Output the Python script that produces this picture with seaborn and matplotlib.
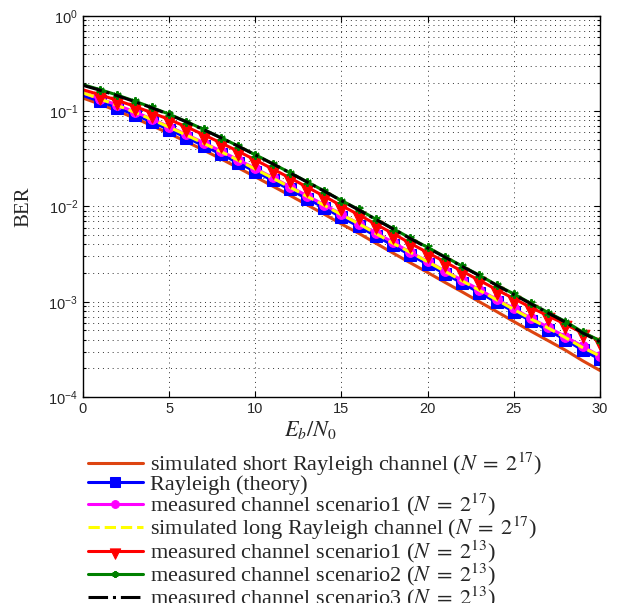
import numpy as np
import matplotlib
matplotlib.use("Agg")
import matplotlib.pyplot as plt
import matplotlib.ticker as mticker
from matplotlib.path import Path
import seaborn as sns

# ── data ──────────────────────────────────────────────────────
ebn0 = list(range(0, 31))

ber_short = [0.1376, 0.1183, 0.1007, 0.0847, 0.0706, 0.0584, 0.0479, 0.0391, 0.0317, 0.0255,
             0.0205, 0.0164, 0.0131, 0.01043, 0.0083, 0.00655, 0.00523, 0.00411, 0.00324, 0.00256,
             0.00203, 0.00160, 0.00127, 0.00100, 0.00079, 0.00062, 0.00049, 0.00039, 0.00031, 0.00024,
             0.00019]
ber_theory = [0.1464, 0.1267, 0.1085, 0.0919, 0.0771, 0.0642, 0.0530, 0.0435, 0.0355, 0.0288,
              0.0233, 0.0188, 0.0151, 0.0121, 0.0097, 0.0077, 0.0062, 0.0049, 0.0039, 0.0031,
              0.00248, 0.00197, 0.00157, 0.00125, 0.00099, 0.00079, 0.00063, 0.00050, 0.00040, 0.00031,
              0.00025]
ber_meas1_17 = [0.155, 0.1350, 0.1160, 0.0985, 0.0827, 0.0689, 0.0570, 0.0468, 0.0382, 0.0310,
                0.0251, 0.0202, 0.0162, 0.0130, 0.0104, 0.0083, 0.0066, 0.0053, 0.0042, 0.0033,
                0.00266, 0.00211, 0.00168, 0.00134, 0.00106, 0.00085, 0.00067, 0.00054, 0.00043, 0.00034,
                0.00027]
ber_long = [0.156, 0.1345, 0.1150, 0.0975, 0.0818, 0.0680, 0.0562, 0.0461, 0.0377, 0.0306,
            0.0247, 0.0199, 0.0160, 0.0128, 0.0103, 0.0082, 0.0066, 0.0052, 0.0041, 0.0033,
            0.00263, 0.00209, 0.00166, 0.00132, 0.00105, 0.00083, 0.00066, 0.00053, 0.00042, 0.00033,
            0.00027]
ber_meas1_13 = [0.168, 0.1485, 0.1300, 0.1124, 0.0964, 0.0819, 0.0686, 0.0567, 0.0466, 0.0380,
                0.0308, 0.0248, 0.0200, 0.0160, 0.0128, 0.0102, 0.0082, 0.0065, 0.0052, 0.0041,
                0.00328, 0.00262, 0.00209, 0.00168, 0.00134, 0.00108, 0.00087, 0.00071, 0.00058, 0.00047,
                0.00039]
ber_meas2_13 = [0.190, 0.1685, 0.1476, 0.1277, 0.1095, 0.0931, 0.0779, 0.0644, 0.0529, 0.0432,
                0.0350, 0.0282, 0.0227, 0.0182, 0.01455, 0.01155, 0.0093, 0.00735, 0.00585, 0.00465,
                0.00372, 0.00297, 0.00237, 0.00190, 0.00150, 0.00121, 0.00096, 0.00077, 0.00062, 0.00048,
                0.00039]
ber_meas3_13 = [0.187, 0.1660, 0.1455, 0.1262, 0.1085, 0.0922, 0.0773, 0.0640, 0.0526, 0.0430,
                0.0348, 0.0281, 0.0226, 0.0181, 0.01450, 0.01150, 0.0092, 0.00730, 0.00580, 0.00460,
                0.00368, 0.00294, 0.00235, 0.00188, 0.00149, 0.00119, 0.00095, 0.00076, 0.00061, 0.00047,
                0.00038]

labels = [
    r"simulated short Rayleigh channel ($N\;=\;2^{17}$)",
    r"Rayleigh (theory)",
    r"measured channel scenario1 ($N\;=\;2^{17}$)",
    r"simulated long Rayleigh channel ($N\;=\;2^{17}$)",
    r"measured channel scenario1 ($N\;=\;2^{13}$)",
    r"measured channel scenario2 ($N\;=\;2^{13}$)",
    r"measured channel scenario3 ($N\;=\;2^{13}$)",
]

# ── style ─────────────────────────────────────────────────────
sns.set_style("ticks")
plt.rcParams["font.family"] = ["Liberation Serif", "DejaVu Serif"]
plt.rcParams["mathtext.fontset"] = "stix"

# downward triangle hanging below its data point (like the MATLAB marker looks here)
tri_down = Path([(-1, 0.5), (1, 0.5), (0, -1.5), (-1, 0.5)],
                [Path.MOVETO, Path.LINETO, Path.LINETO, Path.CLOSEPOLY])

fig = plt.figure(figsize=(6.23, 6.03), dpi=100)
ax = fig.add_axes([0.1332, 0.3416, 0.8298, 0.6319])

lw = 2.2
every = slice(1, None)
sns.lineplot(x=ebn0, y=ber_short, ax=ax, color="#dd4411", lw=lw, label=labels[0])
sns.lineplot(x=ebn0, y=ber_theory, ax=ax, color="#0000ff", lw=lw, marker="s", markersize=8.5,
             markerfacecolor="#0000ff", markeredgecolor="#0000ff", markevery=every, label=labels[1])
sns.lineplot(x=ebn0, y=ber_meas1_17, ax=ax, color="#ff00ff", lw=lw, marker="o", markersize=7,
             markerfacecolor="#ff00ff", markeredgecolor="#ff00ff", markevery=every, label=labels[2])
sns.lineplot(x=ebn0, y=ber_long, ax=ax, color="#ffff00", lw=lw, linestyle="--", label=labels[3])
sns.lineplot(x=ebn0, y=ber_meas1_13, ax=ax, color="#ff0000", lw=lw, marker=tri_down, markersize=14,
             markerfacecolor="#ff0000", markeredgecolor="#ff0000", markevery=every, label=labels[4])
sns.lineplot(x=ebn0, y=ber_meas2_13, ax=ax, color="#008000", lw=lw, marker=(6, 2, 0), markersize=6,
             markeredgewidth=1.5, markeredgecolor="#008000", markevery=every, label=labels[5])
sns.lineplot(x=ebn0, y=ber_meas3_13, ax=ax, color="#000000", lw=lw, linestyle="-.", label=labels[6])

ax.set_yscale("log")
ax.set_xlim(0, 30)
ax.set_ylim(1e-4, 1)
ax.set_xticks(range(0, 31, 5))
ax.yaxis.set_major_locator(mticker.LogLocator(base=10, numticks=10))
ax.yaxis.set_minor_locator(mticker.LogLocator(base=10, subs=np.arange(2, 10), numticks=50))
ax.yaxis.set_major_formatter(mticker.FuncFormatter(
    lambda v, p: r"$\mathregular{10^{%d}}$" % int(round(np.log10(v)))))
ax.yaxis.set_minor_formatter(mticker.NullFormatter())

ax.grid(True, which="major", axis="both", linestyle=(0, (1, 4)), color="#333333", lw=0.7)
ax.grid(True, which="minor", axis="y", linestyle=(0, (1, 4)), color="#333333", lw=0.7)

ax.tick_params(which="both", direction="in", top=True, right=True, width=0.8, color="black")
ax.tick_params(which="major", length=4, labelsize=10.5)
ax.tick_params(which="minor", length=2.5)
fig.canvas.draw()
for t in ax.get_xticklabels() + ax.get_yticklabels():
    t.set_fontfamily("Liberation Sans")
for sp in ax.spines.values():
    sp.set_linewidth(1.0)
    sp.set_color("black")

ax.set_xlabel(r"$E_b/N_0$", fontsize=16)
ax.xaxis.set_label_coords(0.44, -0.058)
ax.set_ylabel("BER", fontsize=15)
ax.yaxis.set_label_coords(-0.095, 0.5)

handles, labs = ax.get_legend_handles_labels()
ax.legend(handles, labs, loc="upper left", bbox_to_anchor=(0.141, 0.2525),
          bbox_transform=fig.transFigure, frameon=False, fontsize=16,
          labelspacing=-0.16, handlelength=2.48, handletextpad=0.32, borderpad=0,
          borderaxespad=0, numpoints=1, markerscale=0.8)

fig.savefig("out.png", dpi=100)
